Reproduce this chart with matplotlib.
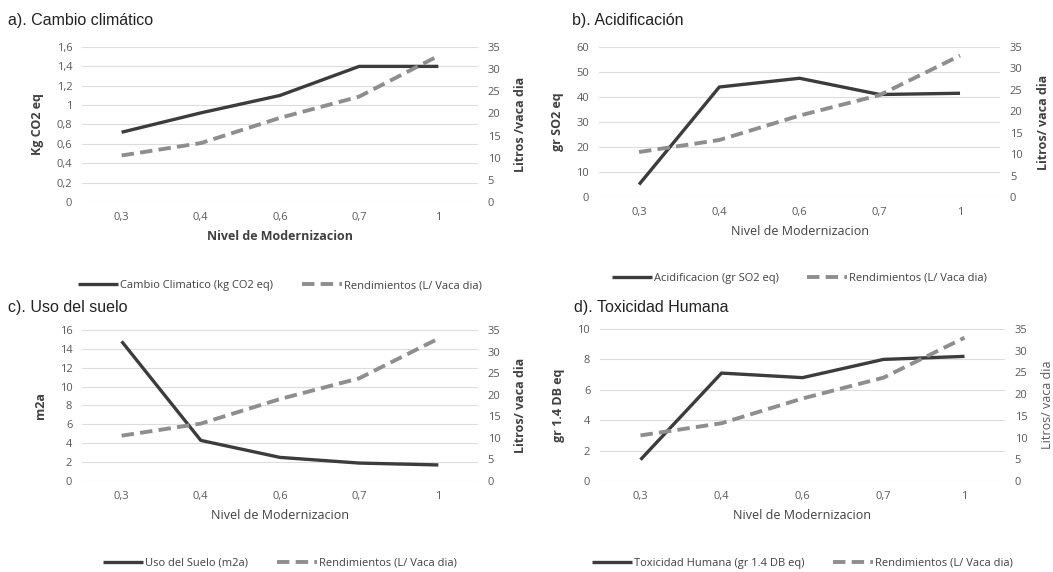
import numpy as np
import matplotlib
matplotlib.use("Agg")
import matplotlib.pyplot as plt
from matplotlib.ticker import FuncFormatter, MultipleLocator

niveles = ["0,3", "0,4", "0,6", "0,7", "1"]
rendimientos = [10.5, 13.3, 19.0, 23.8, 33.0]

cambio = [0.72, 0.92, 1.1, 1.4, 1.4]
acidif = [5, 44, 47.5, 41, 41.5]
suelo = [14.8, 4.3, 2.5, 1.9, 1.7]
toxic = [1.4, 7.1, 6.8, 8.0, 8.2]

plt.rcParams['font.family'] = ['Open Sans', 'DejaVu Sans']
grey_txt = '#595959'

fig = plt.figure(figsize=(10.53, 5.72), dpi=100)

panels = [
    dict(pos=[0.0779, 0.6469, 0.376, 0.2709], title="a). Cambio climático", y=cambio,
         ymax=1.6, step=0.2, ylab="Kg CO2 eq", rlab="Litros /vaca dia", rbold=True,
         xbold=True, leg="Cambio Climatico (kg CO2 eq)", tx=0.008, ty=0.965),
    dict(pos=[0.5688, 0.6556, 0.381, 0.2622], title="b). Acidificación", y=acidif,
         ymax=60, step=10, ylab="gr SO2 eq", rlab="Litros/ vaca dia", rbold=True,
         xbold=False, leg="Acidificacion (gr SO2 eq)", tx=0.543, ty=0.965),
    dict(pos=[0.0779, 0.1591, 0.376, 0.2640], title="c). Uso del suelo", y=suelo,
         ymax=16, step=2, ylab="m2a", rlab="Litros/ vaca dia", rbold=True,
         xbold=False, leg="Uso del Suelo (m2a)", tx=0.008, ty=0.462),
    dict(pos=[0.5698, 0.1591, 0.3846, 0.2657], title="d). Toxicidad Humana", y=toxic,
         ymax=10, step=2, ylab="gr 1.4 DB eq", rlab="Litros/ vaca dia", rbold=False,
         xbold=False, leg="Toxicidad Humana (gr 1.4 DB eq)", tx=0.545, ty=0.462),
]

fmt = FuncFormatter(lambda v, p: f"{v:g}".replace('.', ','))
x = np.arange(len(niveles))

for p in panels:
    ax = fig.add_axes(p['pos'])
    ax2 = ax.twinx()
    l1, = ax.plot(x, p['y'], color='#3c3c3c', lw=2.4, solid_capstyle='butt')
    l2, = ax2.plot(x, rendimientos, color='#8e8e8e', lw=2.8, dashes=(3.2, 1.6))
    ax.set_xlim(-0.5, 4.5)
    ax.set_ylim(0, p['ymax'])
    ax2.set_ylim(0, 35)
    ax.yaxis.set_major_locator(MultipleLocator(p['step']))
    ax2.yaxis.set_major_locator(MultipleLocator(5))
    ax.yaxis.set_major_formatter(fmt)
    ax.set_xticks(x)
    ax.set_xticklabels(niveles)
    ax.grid(axis='y', color='#dcdcdc', lw=0.8)
    ax.set_axisbelow(True)
    for a in (ax, ax2):
        for s in a.spines.values():
            s.set_visible(False)
        a.tick_params(length=0, labelsize=8, colors=grey_txt, pad=7)
    ax.set_ylabel(p['ylab'], fontsize=9, fontweight='bold', color='#404040', labelpad=9)
    ax2.set_ylabel(p['rlab'], fontsize=9, fontweight='bold' if p['rbold'] else 'normal',
                   color='#404040' if p['rbold'] else grey_txt, labelpad=10)
    ax.set_xlabel("Nivel de Modernizacion", fontsize=9,
                  fontweight='bold' if p['xbold'] else 'normal', color='#404040', labelpad=5)
    fig.text(p['tx'], p['ty'], p['title'], fontsize=11.5, family='Liberation Sans',
             color='#222222', va='center')
    ax.legend([l1, l2], [p['leg'], "Rendimientos (L/ Vaca dia)"], loc='upper center',
              bbox_to_anchor=(0.5, -0.44), ncol=2, frameon=False, fontsize=8,
              handlelength=3.6, handletextpad=0.15, columnspacing=2.6, labelcolor='#404040')

fig.savefig("out.png", dpi=100)
